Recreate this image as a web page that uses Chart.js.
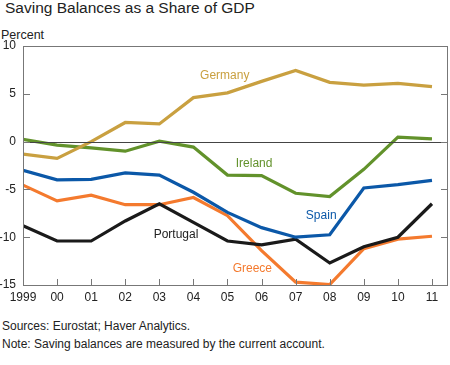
<!DOCTYPE html>
<html>
<head>
<meta charset="utf-8">
<script src="https://cdn.jsdelivr.net/npm/chart.js@4"></script>
<style>
  html, body { margin: 0; padding: 0; background: #fff; }
  body { width: 450px; height: 365px; position: relative; overflow: hidden; font-family: "Liberation Sans", Arial, sans-serif; color: #222; }
  #title { position: absolute; left: 5px; top: -1px; font-size: 15.5px; color: #222; white-space: nowrap; }
  #unit { position: absolute; left: 1px; top: 28px; font-size: 12.5px; color: #222; }
  #wrap { position: absolute; left: 0; top: 0; width: 450px; height: 312px; }
  .note { position: absolute; left: 2px; font-size: 12px; color: #222; white-space: nowrap; }
</style>
</head>
<body>
<div id="title">Saving Balances as a Share of GDP</div>
<div id="unit">Percent</div>
<div id="wrap"><canvas id="chart"></canvas></div>
<div class="note" style="top:319px">Sources: Eurostat; Haver Analytics.</div>
<div class="note" style="top:337px">Note: Saving balances are measured by the current account.</div>
<script>
// Sparebalanse i prosent av BNP, 1999-2011
const years = [1999, 2000, 2001, 2002, 2003, 2004, 2005, 2006, 2007, 2008, 2009, 2010, 2011];
const germany  = [-1.3, -1.75, 0.0, 2.0, 1.85, 4.6, 5.1, 6.3, 7.45, 6.2, 5.9, 6.1, 5.75];
const ireland  = [0.23, -0.36, -0.65, -1.0, 0.05, -0.57, -3.5, -3.55, -5.4, -5.75, -2.9, 0.47, 0.29];
const spain    = [-3.0, -4.0, -3.95, -3.28, -3.5, -5.3, -7.4, -9.0, -10.0, -9.75, -4.85, -4.5, -4.05];
const greece   = [-4.55, -6.2, -5.6, -6.6, -6.6, -5.85, -7.75, -11.4, -14.7, -14.95, -11.2, -10.2, -9.9];
const portugal = [-8.8, -10.4, -10.4, -8.3, -6.5, -8.45, -10.4, -10.8, -10.2, -12.7, -11.0, -10.0, -6.5];
const yTicks = [10, 5, 0, -5, -10, -15];

const series = [
  { name: "Germany",  values: germany,  color: "#C9A040", at: [2004.92, 6.93] },
  { name: "Ireland",  values: ireland,  color: "#62922B", at: [2005.78, -2.34] },
  { name: "Spain",    values: spain,    color: "#0B58A8", at: [2007.75, -7.76] },
  { name: "Portugal", values: portugal, color: "#1A1A1A", at: [2003.49, -9.74] },
  { name: "Greece",   values: greece,   color: "#F47A2E", at: [2005.73, -13.28] },
];

// Ramme, nullinje, innovervendte tikk og serienavn
const decor = {
  id: "decor",
  afterDatasetsDraw(chart) {
    const { ctx, chartArea: a, scales: { x, y } } = chart;
    ctx.save();
    ctx.strokeStyle = "#444"; ctx.lineWidth = 1;
    ctx.beginPath();
    const z = Math.round(y.getPixelForValue(0)) + 0.5;
    ctx.moveTo(a.left, z); ctx.lineTo(a.right, z); ctx.stroke();
    ctx.strokeStyle = "#777";
    ctx.strokeRect(Math.round(a.left) + 0.5, Math.round(a.top) + 0.5, Math.round(a.right - a.left) - 1, Math.round(a.bottom - a.top));
    ctx.beginPath();
    yTicks.forEach((v) => {
      const py = Math.round(y.getPixelForValue(v)) + 0.5;
      ctx.moveTo(a.left, py); ctx.lineTo(a.left + 7, py);
      ctx.moveTo(a.right, py); ctx.lineTo(a.right - 7, py);
    });
    years.slice(1).forEach((yr) => {
      const px = Math.round(x.getPixelForValue(yr)) + 0.5;
      ctx.moveTo(px, a.bottom); ctx.lineTo(px, a.bottom - 6);
    });
    ctx.stroke();
    ctx.font = '12px "Liberation Sans", Arial, sans-serif';
    ctx.textAlign = "center"; ctx.textBaseline = "middle";
    series.forEach((s) => {
      ctx.fillStyle = s.name === "Portugal" ? "#222" : s.color;
      ctx.fillText(s.name, x.getPixelForValue(s.at[0]), y.getPixelForValue(s.at[1]));
    });
    ctx.restore();
  },
};

new Chart(document.getElementById("chart"), {
  type: "line",
  data: {
    datasets: series.map((s) => ({
      label: s.name,
      data: years.map((yr, i) => ({ x: yr, y: s.values[i] })),
      borderColor: s.color, backgroundColor: s.color,
      borderWidth: 3.2, pointRadius: 0, tension: 0, borderJoinStyle: "miter",
    })),
  },
  options: {
    responsive: true, maintainAspectRatio: false, animation: false,
    layout: { padding: { top: 46, right: 2, left: 0, bottom: 0 } },
    plugins: { legend: { display: false }, tooltip: { enabled: false } },
    scales: {
      x: {
        type: "linear", min: 1999, max: 2011.47,
        afterBuildTicks: (s) => { s.ticks = years.map((v) => ({ value: v })); },
        afterFit: (s) => { s.height = 27; },
        grid: { display: false, drawTicks: false }, border: { display: false },
        ticks: { color: "#222", padding: 5, maxRotation: 0, autoSkip: false,
          font: { family: '"Liberation Sans", Arial, sans-serif', size: 12 },
          callback: (v) => v === 1999 ? "1999" : String(v).slice(2) },
      },
      y: {
        min: -15, max: 10,
        afterBuildTicks: (s) => { s.ticks = yTicks.map((v) => ({ value: v })); },
        afterFit: (s) => { s.width = 23; },
        grid: { display: false, drawTicks: false }, border: { display: false },
        ticks: { color: "#222", padding: 7,
          font: { family: '"Liberation Sans", Arial, sans-serif', size: 12 } },
      },
    },
  },
  plugins: [decor],
});
</script>
</body>
</html>
